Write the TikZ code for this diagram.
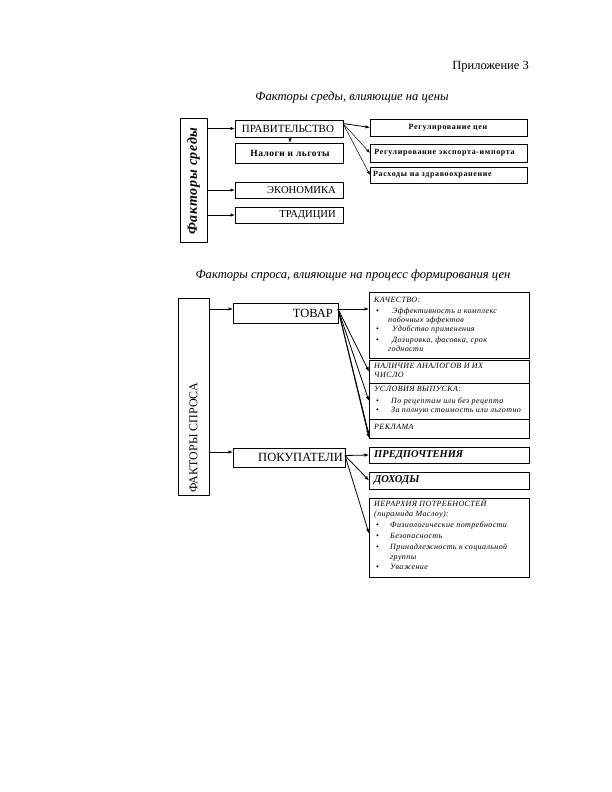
\documentclass[tikz,border=0pt]{standalone}
\usepackage{fontspec}
\setmainfont{Liberation Serif}
\newfontfamily\spbf[LetterSpace=8]{Liberation Serif}
\newfontfamily\spit[LetterSpace=5]{Liberation Serif}
\newfontfamily\spnb[LetterSpace=5]{Liberation Serif}
\usetikzlibrary{arrows.meta,shadows}
\tikzset{
  box/.style={draw, line width=0.6pt, inner sep=0pt, outer sep=0pt, anchor=north west, fill=white,
    drop shadow={shadow xshift=1pt, shadow yshift=-1pt, fill=black!45, opacity=1}},
  arr/.style={-{Latex[length=4.5pt,width=3.5pt]}, line width=0.8pt},
  thin arr/.style={-{Latex[length=4pt,width=3pt]}, line width=0.5pt},
  tline/.style={inner sep=0pt, anchor=west, font=\spit\itshape\fontsize{8}{9}\selectfont, text height=5pt, text depth=1.5pt},
  capt/.style={inner sep=0pt, font=\itshape\fontsize{12.6}{14}\selectfont},
  rom/.style={inner sep=0pt, font=\fontsize{10.6}{12}\selectfont},
  rbf/.style={inner sep=0pt, font=\spbf\bfseries\fontsize{8}{9}\selectfont}
}
\newcommand\mybox[5]{\node[box, minimum width=#4pt, minimum height=#5pt] (#1) at (#2,#3) {};}
\newcommand\bul[1]{\makebox[#1][l]{\upshape\textbullet}}
\begin{document}
\begin{tikzpicture}[x=1pt,y=-1pt]
\useasboundingbox (0,0) rectangle (612,792);

% titles
\node[inner sep=0pt, anchor=east, font=\fontsize{12.5}{14}\selectfont] (app) at (529,67) {Приложение 3};
\node[capt] (t1) at (352,97) {Факторы среды, влияющие на цены};
\node[capt] (t2) at (353,275) {Факторы спроса, влияющие на процесс формирования цен};

% ===== upper diagram =====
\mybox{fsr}{180}{118}{27}{124}
\node[rotate=90, inner sep=0pt, font=\spnb\bfseries\itshape\fontsize{14}{15}\selectfont] (fsrT) at (193.5,181) {Факторы среды};

\mybox{prav}{235}{120}{108}{17}
\node[rom, font=\fontsize{11}{12}\selectfont] (pravT) at (288,128.5) {ПРАВИТЕЛЬСТВО};
\mybox{nal0}{235}{143}{108}{20}
\node[inner sep=0pt, font=\spnb\bfseries\fontsize{9.5}{10}\selectfont] (nal0T) at (290,153) {Налоги и льготы};
\mybox{econ}{235}{182}{108}{16}
\node[rom, anchor=east] (econT) at (336,190) {ЭКОНОМИКА};
\mybox{trad}{235}{207}{108}{16}
\node[rom, anchor=east] (tradT) at (336,215) {ТРАДИЦИИ};

\mybox{rc}{370}{119}{157}{17}
\node[rbf] (rcT) at (448,127.5) {Регулирование цен};
\mybox{rei}{370}{144}{157}{18}
\node[rbf] (reiT) at (444.5,153) {Регулирование экспорта-импорта};
\mybox{rz}{370}{167}{157}{16}
\node[rbf, anchor=west] (rzT) at (373,175) {Расходы на здравоохранение};

\draw[arr] (fsr.east |- prav.west) -- (prav.west);
\draw[arr] (fsr.east |- econ.west) -- (econ.west);
\draw[arr] (fsr.east |- trad.west) -- (trad.west);
\draw[arr] (prav.south -| nal0T) -- (nal0.north -| nal0T);
\coordinate (pc) at ([yshift=5pt]prav.east);
\draw[arr] (pc) -- (rc.west);
\draw[thin arr] (pc) -- (rei.west);
\draw[thin arr] (pc) -- (rz.west);

% ===== lower diagram =====
\mybox{fsp}{178}{298}{31}{197}
\node[rotate=90, anchor=west, inner sep=0pt, font=\fontsize{12}{13}\selectfont] (fspT) at (193.5,493) {ФАКТОРЫ СПРОСА};

\mybox{tovar}{233}{303}{105}{20}
\node[inner sep=0pt, anchor=east, font=\fontsize{12.5}{13}\selectfont] (tovarT) at (333,313) {ТОВАР};
\mybox{pok}{233}{448}{112}{19}
\node[inner sep=0pt, anchor=east, font=\fontsize{12.5}{13}\selectfont] (pokT) at (343,457.5) {ПОКУПАТЕЛИ};

\mybox{kach}{369}{292}{160}{66}
\mybox{nal}{369}{360}{160}{23}
\mybox{usl}{369}{383}{160}{36}
\mybox{rek}{369}{419}{160}{19}
\mybox{pred}{369}{447}{160}{16}
\mybox{doh}{369}{472}{160}{17}
\mybox{ier}{369}{498}{160}{79}

\node[tline] (k0) at (374,301) {КАЧЕСТВО:};
\node[tline] (k1) at (376,312) {\bul{16pt}Эффективность и комплекс};
\node[tline] (k2) at (388,321) {побочных эффектов};
\node[tline] (k3) at (376,330) {\bul{16pt}Удобство применения};
\node[tline] (k4) at (376,341) {\bul{16pt}Дозировка, фасовка, срок};
\node[tline] (k5) at (388,350) {годности};

\node[tline] (n0) at (374,367) {НАЛИЧИЕ АНАЛОГОВ И ИХ};
\node[tline] (n1) at (374,376) {ЧИСЛО};

\node[tline] (u0) at (374,390) {УСЛОВИЯ ВЫПУСКА:};
\node[tline] (u1) at (376,402) {\bul{15pt}По рецептам или без рецепта};
\node[tline] (u2) at (376,411) {\bul{15pt}За полную стоимость или льготно};

\node[tline] (r0) at (374,428) {РЕКЛАМА};

\node[inner sep=0pt, anchor=west, font=\bfseries\itshape\fontsize{10.5}{12}\selectfont] (predT) at (374,455) {ПРЕДПОЧТЕНИЯ};
\node[inner sep=0pt, anchor=west, font=\bfseries\itshape\fontsize{10.5}{12}\selectfont] (dohT) at (374,480.5) {ДОХОДЫ};

\node[tline] (i0) at (374,505) {ИЕРАРХИЯ ПОТРЕБНОСТЕЙ};
\node[tline] (i1) at (374,515) {(пирамида Маслоу):};
\node[tline] (i2) at (376,526) {\bul{14pt}Физиологические потребности};
\node[tline] (i3) at (376,537) {\bul{14pt}Безопасность};
\node[tline] (i4) at (376,548) {\bul{14pt}Принадлежность к социальной};
\node[tline] (i5) at (390,558) {группы};
\node[tline] (i6) at (376,568) {\bul{14pt}Уважение};

\coordinate (ty) at (0,309);
\coordinate (py) at (0,452);
\draw[arr] (fsp.east |- ty) -- (tovar.west |- ty);
\draw[arr] (fsp.east |- py) -- (pok.west |- py);

\coordinate (tc) at (tovar.east |- ty);
\draw[arr] (tc) -- (kach.west |- ty);
\draw[arr] (tc) -- (nal.west);
\draw[arr] (tc) -- (usl.west);
\draw[arr] (tc) -- ([yshift=3pt]rek.south west);
\draw[arr] (tc) -- (rek.south west);

\coordinate (pc2) at ([yshift=2pt]pok.east);
\draw[arr] (pc2) -- (pred.west);
\draw[arr] (pc2) -- (doh.west);
\draw[arr] (pc2) -- ([yshift=4pt]ier.west);
\end{tikzpicture}
\end{document}
